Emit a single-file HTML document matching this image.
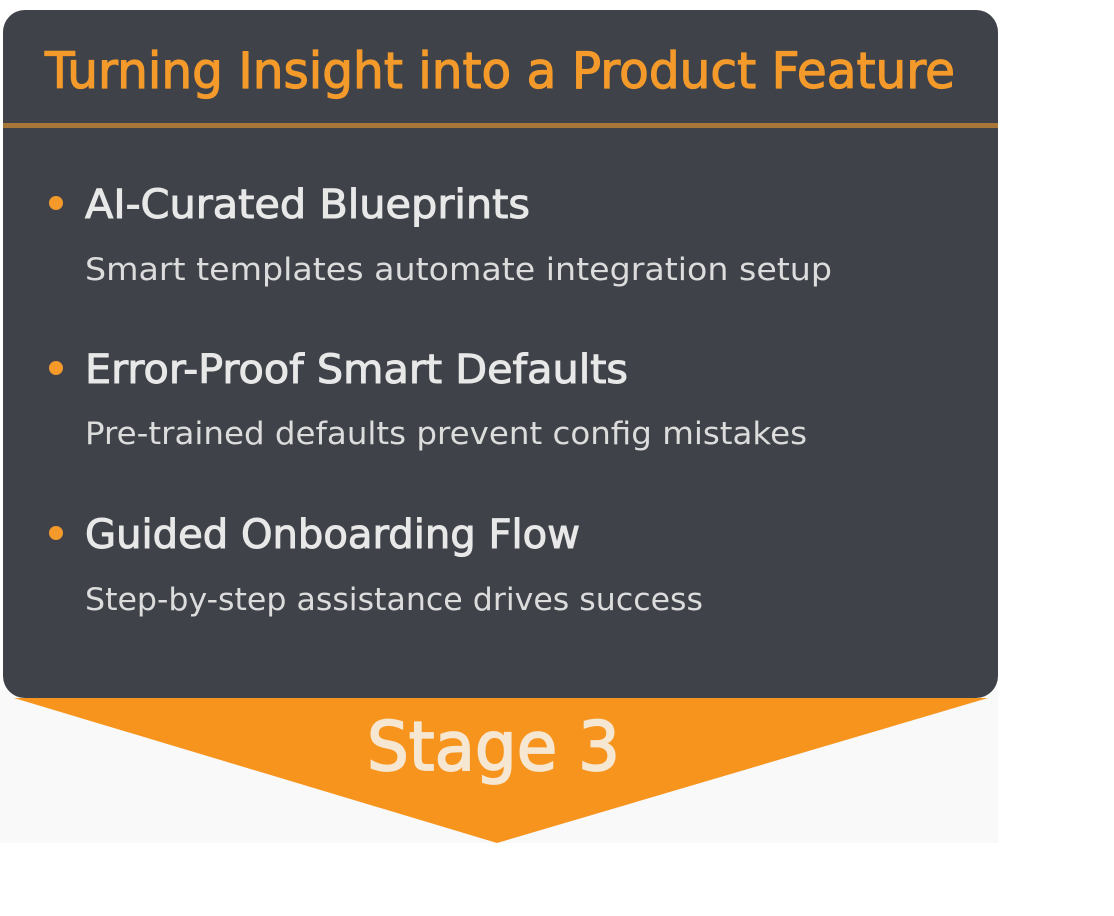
<!DOCTYPE html>
<html><head><style>
html,body{margin:0;padding:0;background:#fff;width:1114px;height:916px;overflow:hidden}
</style></head><body>
<svg width="1114" height="916" viewBox="0 0 1114 916" xmlns="http://www.w3.org/2000/svg">
<rect x="0" y="690" width="998" height="153" fill="#f9f9f9"/>
<polygon points="14,698 988,698 497,843" fill="#f7941d"/>
<rect x="3" y="10" width="995" height="688" rx="22" fill="#3f4349"/>
<rect x="3" y="123" width="995" height="5" fill="#a87638"/>
<g font-family="DejaVu Sans, Liberation Sans, sans-serif">
<text x="45" y="88" font-size="50" fill="#f39a2a" stroke="#f39a2a" stroke-width="1.2" textLength="910" lengthAdjust="spacingAndGlyphs">Turning Insight into a Product Feature</text>
<circle cx="56" cy="203" r="7" fill="#f39a2a"/>
<text x="85" y="218" font-size="40" fill="#e8e8e8" stroke="#e8e8e8" stroke-width="1" textLength="445" lengthAdjust="spacingAndGlyphs">AI-Curated Blueprints</text>
<text x="85" y="280" font-size="31" fill="#dcdcdc" textLength="747" lengthAdjust="spacingAndGlyphs">Smart templates automate  integration setup</text>
<circle cx="56" cy="368" r="7" fill="#f39a2a"/>
<text x="85" y="383" font-size="40" fill="#e8e8e8" stroke="#e8e8e8" stroke-width="1" textLength="543" lengthAdjust="spacingAndGlyphs">Error-Proof Smart Defaults</text>
<text x="85" y="444" font-size="31" fill="#dcdcdc" textLength="722" lengthAdjust="spacingAndGlyphs">Pre-trained defaults prevent config mistakes</text>
<circle cx="56" cy="533" r="7" fill="#f39a2a"/>
<text x="85" y="548" font-size="40" fill="#e8e8e8" stroke="#e8e8e8" stroke-width="1" textLength="495" lengthAdjust="spacingAndGlyphs">Guided Onboarding Flow</text>
<text x="85" y="610" font-size="31" fill="#dcdcdc" textLength="618" lengthAdjust="spacingAndGlyphs">Step-by-step assistance drives success</text>
<text x="367" y="770" font-size="68" fill="#f6e7d2" stroke="#f6e7d2" stroke-width="1.8" textLength="253" lengthAdjust="spacingAndGlyphs">Stage 3</text>
</g>
</svg>
</body></html>
